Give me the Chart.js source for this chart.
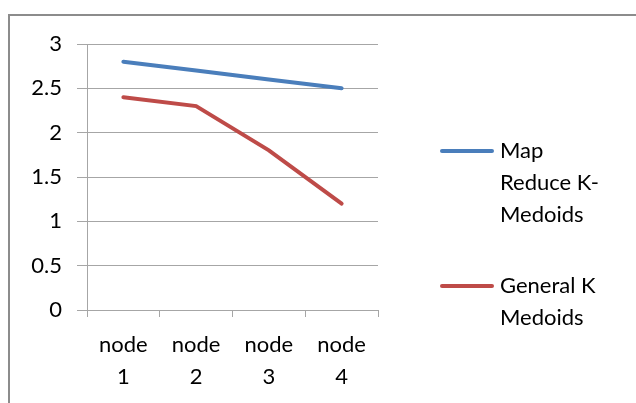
<!DOCTYPE html>
<html>
<head>
<meta charset="utf-8">
<script src="https://cdn.jsdelivr.net/npm/chart.js@4.4.1/dist/chart.umd.min.js"></script>
<style>
    html, body { margin: 0; padding: 0; background: #ffffff; }
    #wrap { width: 636px; height: 403px; position: relative; }
</style>
</head>
<body>
<div id="wrap"><canvas id="chart" width="636" height="403"></canvas></div>
<script>
// Chart data
const categories = [['node', '1'], ['node', '2'], ['node', '3'], ['node', '4']];
const mapReduceValues = [2.8, 2.7, 2.6, 2.5];
const generalValues = [2.4, 2.3, 1.8, 1.2];
const seriesNames = ['Map Reduce K-Medoids', 'General K Medoids'];
const legendLines = [['Map', 'Reduce K-', 'Medoids'], ['General K', 'Medoids']];

const FONT = 'Lato, "Open Sans", sans-serif';
const GRID = '#a6a6a6';
const TEXT = '#000000';

// Outer frame (top and left edges visible)
const framePlugin = {
    id: 'frame',
    beforeDraw(chart) {
        const ctx = chart.ctx;
        ctx.save();
        ctx.fillStyle = '#ffffff';
        ctx.fillRect(0, 0, chart.width, chart.height);
        ctx.strokeStyle = '#8c8c8c';
        ctx.lineWidth = 2;
        ctx.strokeRect(9, 15, 700, 500);
        ctx.restore();
    }
};

// Right-side legend with wrapped labels
const sideLegend = {
    id: 'sideLegend',
    afterDraw(chart) {
        const ctx = chart.ctx;
        const tops = [151, 286];
        ctx.save();
        ctx.font = '22px ' + FONT;
        ctx.textBaseline = 'middle';
        ctx.fillStyle = TEXT;
        chart.data.datasets.forEach((ds, i) => {
            const y = tops[i];
            ctx.strokeStyle = ds.borderColor;
            ctx.lineWidth = 4;
            ctx.lineCap = 'round';
            ctx.beginPath();
            ctx.moveTo(442, y);
            ctx.lineTo(492, y);
            ctx.stroke();
            legendLines[i].forEach((line, j) => {
                ctx.fillText(line, 500, y + j * 32);
            });
        });
        ctx.restore();
    }
};

const ctx = document.getElementById('chart').getContext('2d');
const chart = new Chart(ctx, {
    type: 'line',
    data: {
        labels: categories,
        datasets: [{
            label: seriesNames[0],
            data: mapReduceValues,
            borderColor: '#4a7ebb',
            borderWidth: 4,
            pointRadius: 0,
            tension: 0,
            borderCapStyle: 'round'
        }, {
            label: seriesNames[1],
            data: generalValues,
            borderColor: '#be4b48',
            borderWidth: 4,
            pointRadius: 0,
            tension: 0,
            borderCapStyle: 'round'
        }]
    },
    options: {
        responsive: false,
        animation: false,
        devicePixelRatio: 1,
        layout: { padding: { left: 0, right: 258, top: 44, bottom: 0 } },
        plugins: {
            legend: { display: false },
            tooltip: { enabled: false }
        },
        scales: {
            x: {
                offset: true,
                grid: {
                    offset: true,
                    drawOnChartArea: false,
                    drawTicks: true,
                    tickLength: 7,
                    color: GRID,
                    lineWidth: 1
                },
                border: { display: true, color: GRID, width: 1 },
                ticks: {
                    color: TEXT,
                    font: { family: FONT, size: 22, lineHeight: 1.45 },
                    padding: 12,
                    maxRotation: 0,
                    autoSkip: false
                },
                afterFit(scale) { scale.height = 93; }
            },
            y: {
                min: 0,
                max: 3,
                grid: {
                    color: GRID,
                    lineWidth: 1,
                    tickLength: 10
                },
                border: { display: true, color: GRID, width: 1 },
                ticks: {
                    stepSize: 0.5,
                    color: TEXT,
                    font: { family: FONT, size: 22 },
                    padding: 15,
                    callback: (v) => String(v)
                },
                afterFit(scale) { scale.width = 87; }
            }
        }
    },
    plugins: [framePlugin, sideLegend]
});
</script>
</body>
</html>
